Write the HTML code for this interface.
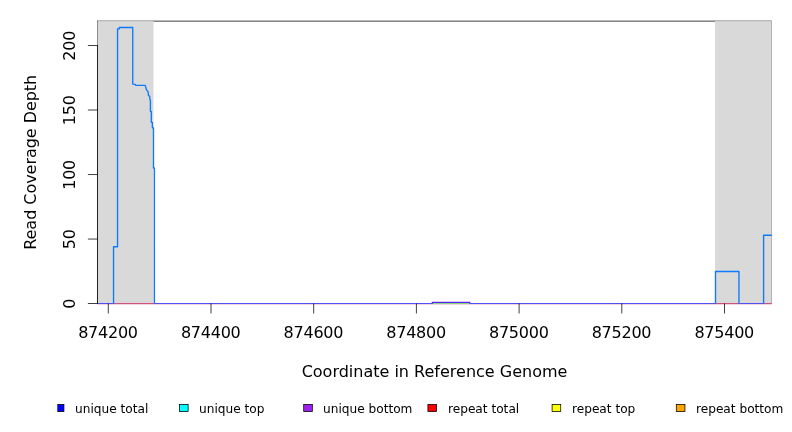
<!DOCTYPE html>
<html><head><meta charset="utf-8"><title>Read Coverage Depth</title>
<style>
html,body{margin:0;padding:0;background:#fff;}
body{width:792px;height:432px;overflow:hidden;}
svg{display:block;}
text{font-family:"DejaVu Sans","Liberation Sans",sans-serif;fill:#000;}
.ax{font-size:16px;letter-spacing:-0.24px;}
.ti{font-size:16px;}
.lg{font-size:12.15px;}
</style></head><body>
<svg width="792" height="432" viewBox="0 0 792 432">
<rect x="0" y="0" width="792" height="432" fill="#fff"/>
<rect x="97.5" y="21.1" width="674.10" height="282.37" fill="none" stroke="#000" stroke-width="0.75"/>
<rect x="97.5" y="21.1" width="56.00" height="282.37" fill="#d9d9d9"/>
<rect x="715.0" y="21.1" width="56.75" height="282.37" fill="#d9d9d9"/>
<line x1="97.5" y1="303.6" x2="771.6" y2="303.6" stroke="#cd507d" stroke-width="1.2"/>
<line x1="432.3" y1="303.5" x2="469.8" y2="303.5" stroke="#80d880" stroke-width="1"/>
<line x1="97.5" y1="303.5" x2="113.55" y2="303.5" stroke="#5050f4" stroke-width="1"/>
<line x1="154.4" y1="303.5" x2="432.6" y2="303.5" stroke="#5050f4" stroke-width="1"/>
<line x1="469.5" y1="303.5" x2="715.5" y2="303.5" stroke="#5050f4" stroke-width="1"/>
<line x1="738.95" y1="303.5" x2="763.6" y2="303.5" stroke="#5050f4" stroke-width="1"/>
<polyline points="432.3,303.45 432.3,302.4 469.8,302.4 469.8,303.45" fill="none" stroke="#6020f0" stroke-width="1.1"/>
<polyline points="113.55,303.47 113.55,246.71 117.55,246.71 117.55,28.90 119.30,28.90 119.30,27.50 132.75,27.50 132.75,84.10 134.90,84.30 136.00,85.40 145.30,85.40 146.40,89.70 148.10,91.80 148.50,95.60 149.70,96.20 149.90,99.50 150.40,100.20 150.40,111.30 151.30,111.30 151.30,122.30 152.40,122.30 152.40,127.80 153.50,127.80 153.50,168.00 154.40,168.00 154.40,303.47" fill="none" stroke="#0c7aff" stroke-width="1.35" stroke-linejoin="round"/>
<polyline points="715.50,303.47 715.50,271.45 738.95,271.45 738.95,303.47" fill="none" stroke="#0c7aff" stroke-width="1.35" stroke-linejoin="round"/>
<polyline points="763.60,303.47 763.60,235.20 771.80,235.20" fill="none" stroke="#0c7aff" stroke-width="1.35" stroke-linejoin="round"/>
<line x1="97.5" y1="303.85" x2="97.5" y2="45.1" stroke="#000" stroke-width="0.75"/>
<line x1="87.90" y1="303.50" x2="97.5" y2="303.50" stroke="#000" stroke-width="0.75"/>
<text class="ax" text-anchor="middle" transform="translate(74.7,303.80) rotate(-90)">0</text>
<line x1="87.90" y1="239.05" x2="97.5" y2="239.05" stroke="#000" stroke-width="0.75"/>
<text class="ax" text-anchor="middle" transform="translate(74.7,239.35) rotate(-90)">50</text>
<line x1="87.90" y1="174.55" x2="97.5" y2="174.55" stroke="#000" stroke-width="0.75"/>
<text class="ax" text-anchor="middle" transform="translate(74.7,174.85) rotate(-90)">100</text>
<line x1="87.90" y1="110.00" x2="97.5" y2="110.00" stroke="#000" stroke-width="0.75"/>
<text class="ax" text-anchor="middle" transform="translate(74.7,110.30) rotate(-90)">150</text>
<line x1="87.90" y1="45.50" x2="97.5" y2="45.50" stroke="#000" stroke-width="0.75"/>
<text class="ax" text-anchor="middle" transform="translate(74.7,45.80) rotate(-90)">200</text>
<line x1="108.30" y1="303.47" x2="108.30" y2="313.47" stroke="#000" stroke-width="0.75"/>
<text class="ax" text-anchor="middle" x="108.00" y="337.6">874200</text>
<line x1="211.00" y1="303.47" x2="211.00" y2="313.47" stroke="#000" stroke-width="0.75"/>
<text class="ax" text-anchor="middle" x="210.70" y="337.6">874400</text>
<line x1="313.70" y1="303.47" x2="313.70" y2="313.47" stroke="#000" stroke-width="0.75"/>
<text class="ax" text-anchor="middle" x="313.40" y="337.6">874600</text>
<line x1="416.40" y1="303.47" x2="416.40" y2="313.47" stroke="#000" stroke-width="0.75"/>
<text class="ax" text-anchor="middle" x="416.10" y="337.6">874800</text>
<line x1="519.10" y1="303.47" x2="519.10" y2="313.47" stroke="#000" stroke-width="0.75"/>
<text class="ax" text-anchor="middle" x="518.80" y="337.6">875000</text>
<line x1="621.80" y1="303.47" x2="621.80" y2="313.47" stroke="#000" stroke-width="0.75"/>
<text class="ax" text-anchor="middle" x="621.50" y="337.6">875200</text>
<line x1="724.50" y1="303.47" x2="724.50" y2="313.47" stroke="#000" stroke-width="0.75"/>
<text class="ax" text-anchor="middle" x="724.20" y="337.6">875400</text>
<text class="ti" text-anchor="middle" x="434.5" y="376.8">Coordinate in Reference Genome</text>
<text class="ti" style="letter-spacing:-0.04px" text-anchor="middle" transform="translate(36.2,162.3) rotate(-90)">Read Coverage Depth</text>
<clipPath id="lc"><rect x="57.3" y="400" width="740" height="20"/></clipPath>
<g clip-path="url(#lc)">
<rect x="55.30" y="404.4" width="8.64" height="7.2" fill="#0000ff" stroke="#000" stroke-width="0.75"/>
<rect x="179.50" y="404.4" width="8.64" height="7.2" fill="#00ffff" stroke="#000" stroke-width="0.75"/>
<rect x="303.70" y="404.4" width="8.64" height="7.2" fill="#a020f0" stroke="#000" stroke-width="0.75"/>
<rect x="427.90" y="404.4" width="8.64" height="7.2" fill="#ff0000" stroke="#000" stroke-width="0.75"/>
<rect x="552.10" y="404.4" width="8.64" height="7.2" fill="#ffff00" stroke="#000" stroke-width="0.75"/>
<rect x="676.30" y="404.4" width="8.64" height="7.2" fill="#ffa500" stroke="#000" stroke-width="0.75"/>
</g>
<text class="lg" x="75.00" y="412.6">unique total</text>
<text class="lg" x="199.00" y="412.6">unique top</text>
<text class="lg" x="323.00" y="412.6">unique bottom</text>
<text class="lg" x="448.00" y="412.6">repeat total</text>
<text class="lg" x="572.00" y="412.6">repeat top</text>
<text class="lg" x="696.00" y="412.6">repeat bottom</text>
</svg>
</body></html>
